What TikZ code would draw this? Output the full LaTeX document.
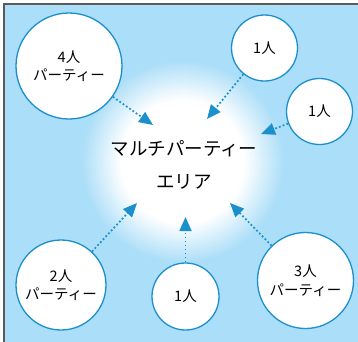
\documentclass[tikz,border=0pt]{standalone}
\usepackage{fontspec}
\newfontfamily\jp{Noto Sans CJK JP}
\usetikzlibrary{arrows.meta}
\definecolor{bgblue}{HTML}{ABDEF8}
\definecolor{ringblue}{HTML}{1B90CC}
\definecolor{framegray}{HTML}{5A5A5A}
\tikzset{
  party/.style={circle, draw=ringblue, line width=1.3pt, fill=white, inner sep=0pt, align=center,
    font=\jp\fontsize{14.5}{18.5}\selectfont},
  joinarrow/.style={draw=ringblue, line width=1.7pt, dash pattern=on 1.8pt off 2.2pt,
    -{Triangle[length=14pt,width=12pt,fill=ringblue]}},
}
\begin{document}
\begin{tikzpicture}[x=1pt,y=-1pt]
\useasboundingbox (0,0) rectangle (358,341);
\begin{scope}
\clip (0,0) rectangle (358,341);
\fill[bgblue] (4,4) rectangle (362,345);
\foreach \i in {0,...,40}{
  \pgfmathsetmacro{\rr}{102-\i}
  \pgfmathsetmacro{\pc}{100-2.5*\i}
  \fill[bgblue!\pc!white] (183,162) circle (\rr);
}
\draw[framegray, line width=1.6pt] (4,345) -- (4,4) -- (362,4);
\end{scope}
\node[align=center, font=\jp\fontsize{18.5}{33}\selectfont] (area) at (184,165) {マルチパーティー\\エリア};
\node[party, minimum size=106pt] (p4) at (69,66) {4人\\パーティー};
\node[party, minimum size=66pt] (s1) at (264.5,48) {1人};
\node[party, minimum size=66pt] (s2) at (319.5,111.5) {1人};
\node[party, minimum size=90pt] (p2) at (61,285) {2人\\パーティー};
\node[party, minimum size=67pt] (s3) at (185.5,296.5) {1人};
\node[party, minimum size=96pt] (p3) at (305.5,280.5) {3人\\パーティー};
\coordinate (t4) at (153,125);
\coordinate (ts1) at (207,119);
\coordinate (ts2) at (261,134);
\coordinate (t2) at (137,203);
\coordinate (ts3) at (185.5,217);
\coordinate (t3) at (230,203);
\draw[joinarrow] (p4) -- (t4);
\draw[joinarrow] (s1) -- (ts1);
\draw[joinarrow] (s2) -- (ts2);
\draw[joinarrow] (p2) -- (t2);
\draw[joinarrow] (s3) -- (ts3);
\draw[joinarrow] (p3) -- (t3);
\end{tikzpicture}
\end{document}
